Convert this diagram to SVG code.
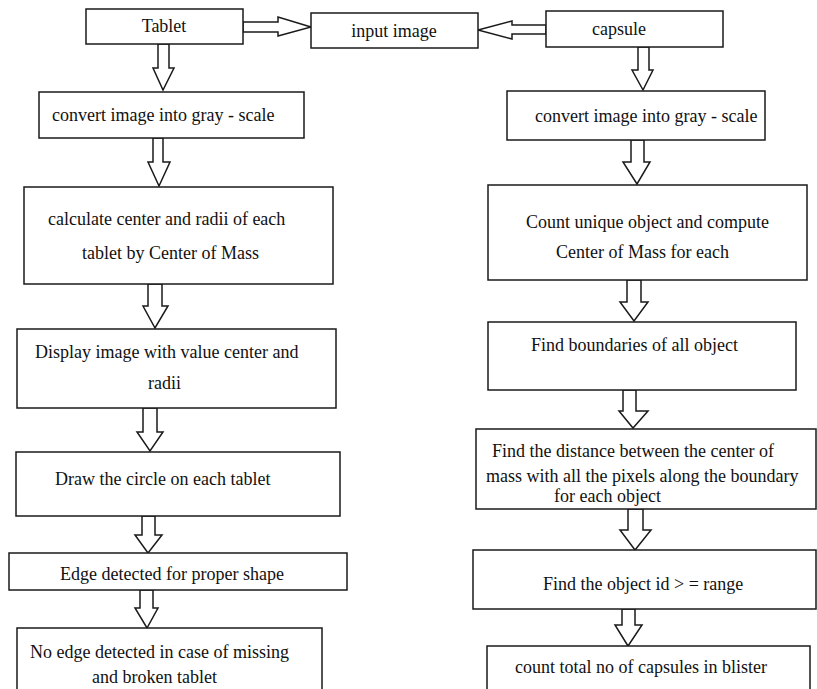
<svg xmlns="http://www.w3.org/2000/svg" width="817" height="689" viewBox="0 0 817 689">
<style>
.box{fill:#fff;stroke:#1a1a1a;stroke-width:1.5}
.arr{fill:#fff;stroke:#1a1a1a;stroke-width:1.5;stroke-linejoin:miter}
</style>
<rect width="817" height="689" fill="#fff"/>
<g id="connectors">
<polygon class="arr" points="243,22 278,22 278,17 311,27 278,36 278,32 243,32"/>
<polygon class="arr" points="546,25 512,25 512,21 478,30 512,39 512,34 546,34"/>
<polygon class="arr" points="158,44 169,44 169,68 174,68 163,90 153,68 158,68"/>
<polygon class="arr" points="153,138 163,138 163,162 170,162 159,186 148,162 153,162"/>
<polygon class="arr" points="148,284 162,284 162,306 168,306 155,328 143,306 148,306"/>
<polygon class="arr" points="143,408 157,408 157,432 163,432 150,451 137,432 143,432"/>
<polygon class="arr" points="142,516 155,516 155,535 162,535 148,553 135,535 142,535"/>
<polygon class="arr" points="140,590 153,590 153,608 158,608 147,628 135,608 140,608"/>
<polygon class="arr" points="638,47 649,47 649,70 653,70 643,90 632,70 638,70"/>
<polygon class="arr" points="631,140 644,140 644,162 650,162 637,184 623,162 631,162"/>
<polygon class="arr" points="627,280 641,280 641,302 648,302 634,321 620,302 627,302"/>
<polygon class="arr" points="623,390 636,390 636,411 648,411 633,428 619,411 623,411"/>
<polygon class="arr" points="628,509 643,509 643,530 651,530 635,550 620,530 628,530"/>
<polygon class="arr" points="622,609 635,609 635,625 642,625 628,646 615,625 622,625"/>
</g>
<g font-family="Liberation Serif, Times New Roman, serif" font-size="18" fill="#111">
<g id="tablet"><rect class="box" x="86" y="9" width="157" height="35"/><text x="164" y="32" text-anchor="middle">Tablet</text></g>
<g id="input"><rect class="box" x="311" y="13" width="167" height="35"/><text x="394" y="37" text-anchor="middle">input image</text></g>
<g id="capsule"><rect class="box" x="546" y="11" width="177" height="36"/><text x="619" y="35" text-anchor="middle">capsule</text></g>
<g id="gray-left"><rect class="box" x="39" y="92" width="265" height="46"/><text x="52" y="121">convert image into gray - scale</text></g>
<g id="calc"><rect class="box" x="24" y="187" width="309" height="97"/><text x="48" y="225">calculate center and radii of each</text><text x="82" y="259">tablet by Center of Mass</text></g>
<g id="display"><rect class="box" x="17" y="329" width="319" height="79"/><text x="35" y="358">Display image with value center and</text><text x="148" y="389">radii</text></g>
<g id="draw"><rect class="box" x="16" y="452" width="324" height="64"/><text x="55" y="485">Draw the circle on each tablet</text></g>
<g id="edge"><rect class="box" x="9" y="553" width="338" height="37"/><text x="60" y="580">Edge detected for proper shape</text></g>
<g id="noedge"><rect class="box" x="17" y="628" width="305" height="70"/><text x="30" y="658">No edge detected in case of missing</text><text x="92" y="683">and broken tablet</text></g>
<g id="gray-right"><rect class="box" x="507" y="91" width="258" height="49"/><text x="535" y="122">convert image into gray - scale</text></g>
<g id="count"><rect class="box" x="488" y="185" width="319" height="95"/><text x="526" y="228">Count unique object and compute</text><text x="556" y="258">Center of Mass for each</text></g>
<g id="boundaries"><rect class="box" x="488" y="322" width="308" height="68"/><text x="531" y="351">Find boundaries of all object</text></g>
<g id="distance"><rect class="box" x="476" y="429" width="340" height="80"/><text x="492" y="457">Find the distance between the center of</text><text x="486" y="482">mass with all the pixels along the boundary</text><text x="554" y="502">for each object</text></g>
<g id="objid"><rect class="box" x="473" y="550" width="343" height="59"/><text x="543" y="590">Find the object id &gt; = range</text></g>
<g id="total"><rect class="box" x="487" y="646" width="323" height="52"/><text x="515" y="673">count total no of capsules in blister</text></g>
</g>
</svg>
